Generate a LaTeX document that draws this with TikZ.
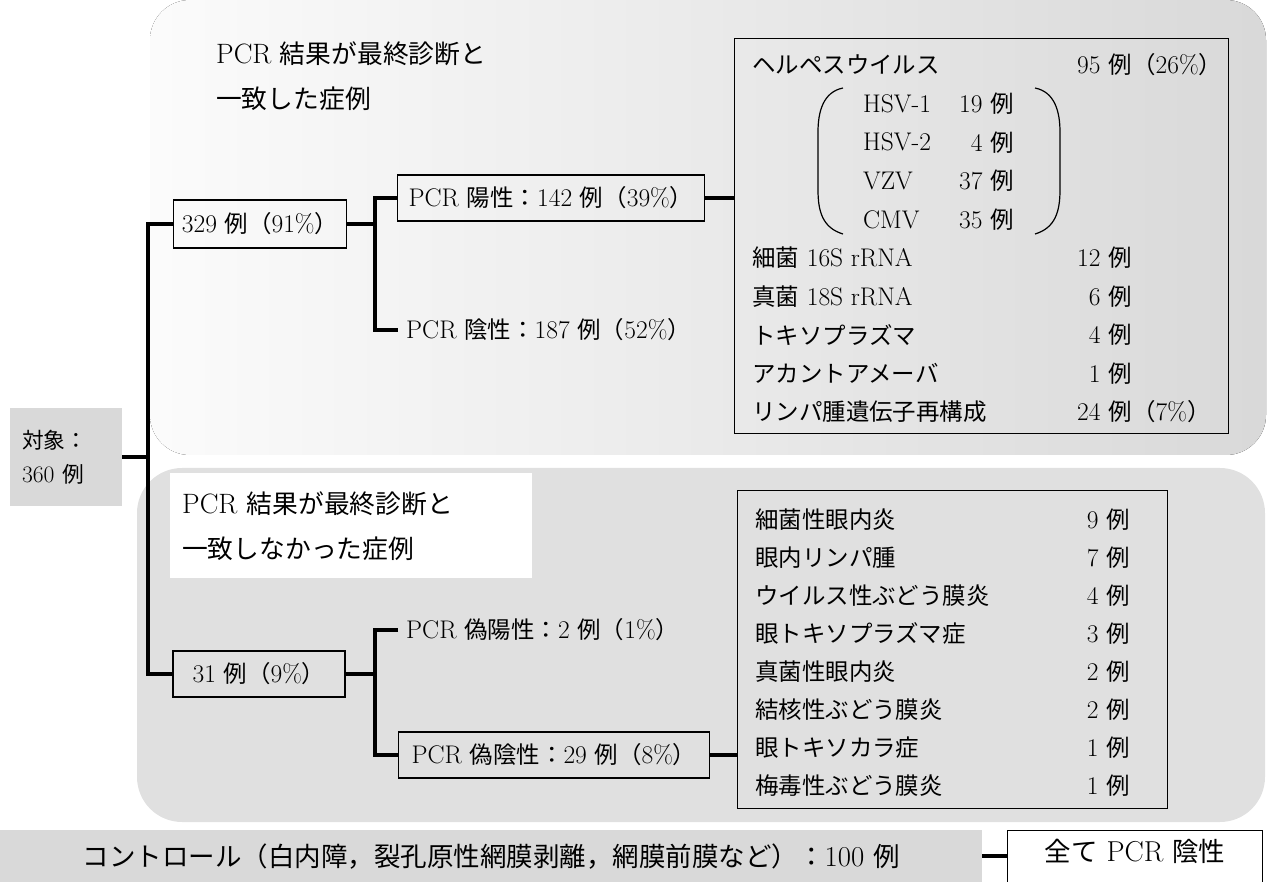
\documentclass[tikz,border=0pt]{standalone}
\usepackage{fontspec}
\newfontfamily\jp[Scale=0.92]{Noto Sans CJK JP}
\newcommand\JP[1]{{\jp #1}}
\newcommand\figfont{\fontsize{25.5}{30}\selectfont}

\tikzset{
  conn/.style={line width=3.5pt},
  box/.style={draw, line width=1.1pt, inner xsep=5pt, inner ysep=6pt, font=\figfont},
  plain/.style={inner sep=8pt, font=\figfont},
  title/.style={font=\fontsize{28}{45}\selectfont, align=left, inner sep=12pt},
  paren/.style={line width=1.2pt},
}

\begin{document}
\begin{tikzpicture}[x=1pt, y=-1pt]
\useasboundingbox (0,0) rectangle (1270,882);

% shaded areas
\fill[left color=gray!3, right color=gray!30, rounded corners=40pt] (150,0) rectangle (1266,455);
\fill[gray!24, rounded corners=45pt] (137,468) rectangle (1265,822);

\node[title, anchor=north west] (ttl1) at (204,30) {PCR \JP{結果が最終診断と}\\\JP{一致した症例}};
\node[title, fill=white, anchor=north west, minimum width=362, minimum height=105, text width=338] (ttl2) at (170,473) {PCR \JP{結果が最終診断と}\\\JP{一致しなかった症例}};

% tree
\node[fill=gray!30, minimum width=112, minimum height=98, text width=88, align=left, font=\fontsize{23.6}{34}\selectfont] (subj) at (66,457) {\JP{対象：}\\360 \JP{例}};

\node[box, minimum width=173, minimum height=48] (agree) at (260,224) {329 \JP{例（}91\%\JP{）}};
\node[box, minimum width=307, minimum height=46] (pos) at (551,198) {PCR \JP{陽性：}142 \JP{例（}39\%\JP{）}};
\node[plain, anchor=west] (neg) at (398,330) {PCR \JP{陰性：}187 \JP{例（}52\%\JP{）}};

\node[box, minimum width=172, minimum height=46] (disagree) at (259,674) {31 \JP{例（}9\%\JP{）}};
\node[plain, anchor=west] (fpos) at (398,630) {PCR \JP{偽陽性：}2 \JP{例（}1\%\JP{）}};
\node[box, minimum width=311, minimum height=46] (fneg) at (554,755) {PCR \JP{偽陰性：}29 \JP{例（}8\%\JP{）}};

\coordinate (tr) at (148,674);
\coordinate (br1) at (375,330);
\coordinate (br2) at (375,755);

\draw[conn] (subj.east) -- (subj.east -| tr);
\draw[conn] (agree.west) -| (tr) -- (disagree.west);
\draw[conn] (agree.east) -- (agree.east -| br1);
\draw[conn] (pos.west) -| (br1) -- (neg.west);
\draw[conn] (disagree.east) -- (disagree.east -| br2);
\draw[conn] (fpos.west) -| (br2) -- (fneg.west);

% positive results
\node[box, anchor=north west, minimum width=494, minimum height=395] (virus) at (734,38) {};
\draw[conn] (pos.east) -- (pos.east -| virus.west);

\node[plain, anchor=west] (hv) at (744,65) {\JP{ヘルペスウイルス}};
\node[plain, anchor=east] (hvn) at (1140,65) {95 \JP{例}};
\node[plain, anchor=west] (hvp) at (1124,65) {\JP{（}26\%\JP{）}};
\foreach \v/\n [count=\i] in {HSV-1/19, HSV-2/4, VZV/37, CMV/35} {
  \node[plain, anchor=west] (hsv\i) at (855, 65+38.6*\i) {\v};
  \node[plain, anchor=east] (hsvn\i) at (1022, 65+38.6*\i) {\n\ \JP{例}};
}
\draw[paren] (843,88) .. controls (823,92) and (818,112) .. (818,132) -- (818,190) .. controls (818,212) and (823,228) .. (843,234);
\draw[paren] (1035,88) .. controls (1055,92) and (1060,112) .. (1060,132) -- (1060,190) .. controls (1060,212) and (1055,228) .. (1035,234);

\foreach \s/\n [count=\i] in {{\JP{細菌} 16S rRNA}/12, {\JP{真菌} 18S rRNA}/6, {\JP{トキソプラズマ}}/4, {\JP{アカントアメーバ}}/1} {
  \node[plain, anchor=west] (org\i) at (744, 219+38.6*\i) {\s};
  \node[plain, anchor=east] (orgn\i) at (1140, 219+38.6*\i) {\n\ \JP{例}};
}
\node[plain, anchor=west] (lym) at (744,412) {\JP{リンパ腫遺伝子再構成}};
\node[plain, anchor=east] (lymn) at (1140,412) {24 \JP{例}};
\node[plain, anchor=west] (lymp) at (1124,412) {\JP{（}7\%\JP{）}};

% final diagnoses of false negatives
\node[box, anchor=north west, minimum width=430, minimum height=318] (dx) at (737,490) {};
\draw[conn] (fneg.east) -- (fneg.east -| dx.west);
\foreach \s/\n [count=\i] in {細菌性眼内炎/9, 眼内リンパ腫/7, ウイルス性ぶどう膜炎/4, 眼トキソプラズマ症/3, 真菌性眼内炎/2, 結核性ぶどう膜炎/2, 眼トキソカラ症/1, 梅毒性ぶどう膜炎/1} {
  \node[plain, anchor=west] (dx\i) at (747, 482+37.9*\i) {\JP{\s}};
  \node[plain, anchor=east] (dxn\i) at (1138, 482+37.9*\i) {\n\ \JP{例}};
}

% controls
\node[fill=gray!30, anchor=north west, minimum width=982, minimum height=52, inner sep=0pt, font=\fontsize{28.8}{32}\selectfont] (ctrl) at (0,830) {\JP{コントロール（白内障，裂孔原性網膜剥離，網膜前膜など）：}100 \JP{例}};
\node[box, anchor=north west, minimum width=255, minimum height=70, text height=16pt, text depth=24pt, font=\fontsize{28.8}{32}\selectfont] (allneg) at (1007,830) {\JP{全て} PCR \JP{陰性}};
\draw[conn] (ctrl.east) -- (ctrl.east -| allneg.west);
\end{tikzpicture}
\end{document}
